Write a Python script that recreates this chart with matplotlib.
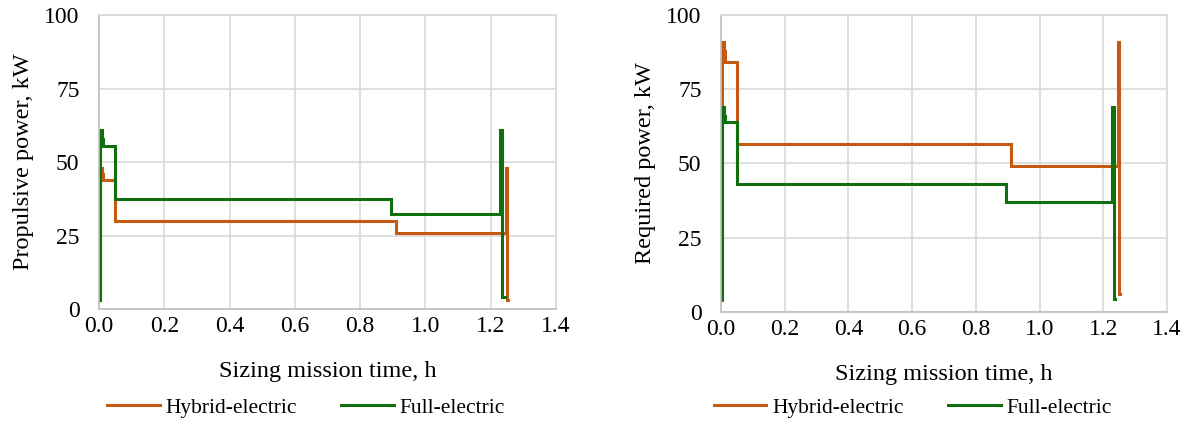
import matplotlib
matplotlib.use("Agg")
import matplotlib.pyplot as plt

plt.rcParams['font.family'] = ['Liberation Serif', 'DejaVu Serif']

# Propulsive power (left)
t_hyb_prop = [0.004, 0.004, 0.008, 0.008, 0.012, 0.012, 0.05, 0.05, 0.91, 0.91, 1.246, 1.246, 1.250, 1.250, 1.253]
p_hyb_prop = [3, 48, 48, 46, 46, 44, 44, 30, 30, 26, 26, 48, 48, 3, 3]
t_full_prop = [0.004, 0.004, 0.008, 0.008, 0.012, 0.012, 0.05, 0.05, 0.895, 0.895, 1.229, 1.229, 1.236, 1.236, 1.244]
p_full_prop = [3, 61, 61, 58, 58, 55.5, 55.5, 37.5, 37.5, 32.5, 32.5, 61, 61, 4, 4]

# Required power (right)
t_hyb_req = [0.004, 0.004, 0.008, 0.008, 0.012, 0.012, 0.05, 0.05, 0.91, 0.91, 1.245, 1.245, 1.250, 1.250, 1.252]
p_hyb_req = [4, 91, 91, 88, 88, 84, 84, 56.5, 56.5, 49, 49, 91, 91, 6, 6]
t_full_req = [0.004, 0.004, 0.008, 0.008, 0.012, 0.012, 0.05, 0.05, 0.895, 0.895, 1.229, 1.229, 1.234, 1.234, 1.236]
p_full_req = [4.5, 69, 69, 66, 66, 64, 64, 43, 43, 37, 37, 69, 69, 4.5, 4.5]

x_ticks = [0.0, 0.2, 0.4, 0.6, 0.8, 1.0, 1.2, 1.4]
y_ticks = [0, 25, 50, 75, 100]

c_hyb = '#C55A11'
c_full = '#107010'
FS_TICK = 17
FS_LAB = 17.5
FS_LEG = 15.5

fig = plt.figure(figsize=(11.87, 4.21), dpi=100)
ax1 = fig.add_axes([0.0834, 0.266, 0.385, 0.698])
ax2 = fig.add_axes([0.6074, 0.259, 0.3757, 0.7055])

def style(ax, t_h, p_h, t_f, p_f, ylabel, legx):
    ax.plot(t_h, p_h, color=c_hyb, lw=2.2, label='Hybrid-electric', solid_joinstyle='miter')
    ax.plot(t_f, p_f, color=c_full, lw=2.2, label='Full-electric', solid_joinstyle='miter')
    ax.set_xlim(0, 1.4)
    ax.set_ylim(0, 100)
    ax.set_xticks(x_ticks)
    ax.set_xticklabels([f'{v:.1f}' for v in x_ticks])
    ax.set_yticks(y_ticks)
    ax.grid(True, color='#D9D9D9', lw=1.2)
    ax.set_axisbelow(True)
    for s in ax.spines.values():
        s.set_color('#D9D9D9')
        s.set_linewidth(1.2)
    ax.spines['left'].set_color('#BFBFBF')
    ax.spines['bottom'].set_color('#BFBFBF')
    ax.tick_params(axis='x', length=0, labelsize=FS_TICK, pad=5)
    ax.tick_params(axis='y', length=0, labelsize=FS_TICK, pad=14)
    ax.set_xlabel('Sizing mission time, h', fontsize=FS_LAB, labelpad=17)
    ax.set_ylabel(ylabel, fontsize=FS_LAB, labelpad=7)
    fig.legend(handles=ax.get_lines(), loc='center', bbox_to_anchor=(legx, 0.031), ncol=2,
               frameon=False, fontsize=FS_LEG, handlelength=2.45, columnspacing=2.05,
               handletextpad=0.27)

style(ax1, t_hyb_prop, p_hyb_prop, t_full_prop, p_full_prop, 'Propulsive power, kW', 0.2578)
style(ax2, t_hyb_req, p_hyb_req, t_full_req, p_full_req, 'Required power, kW', 0.769)

fig.savefig('out.png', dpi=100)
